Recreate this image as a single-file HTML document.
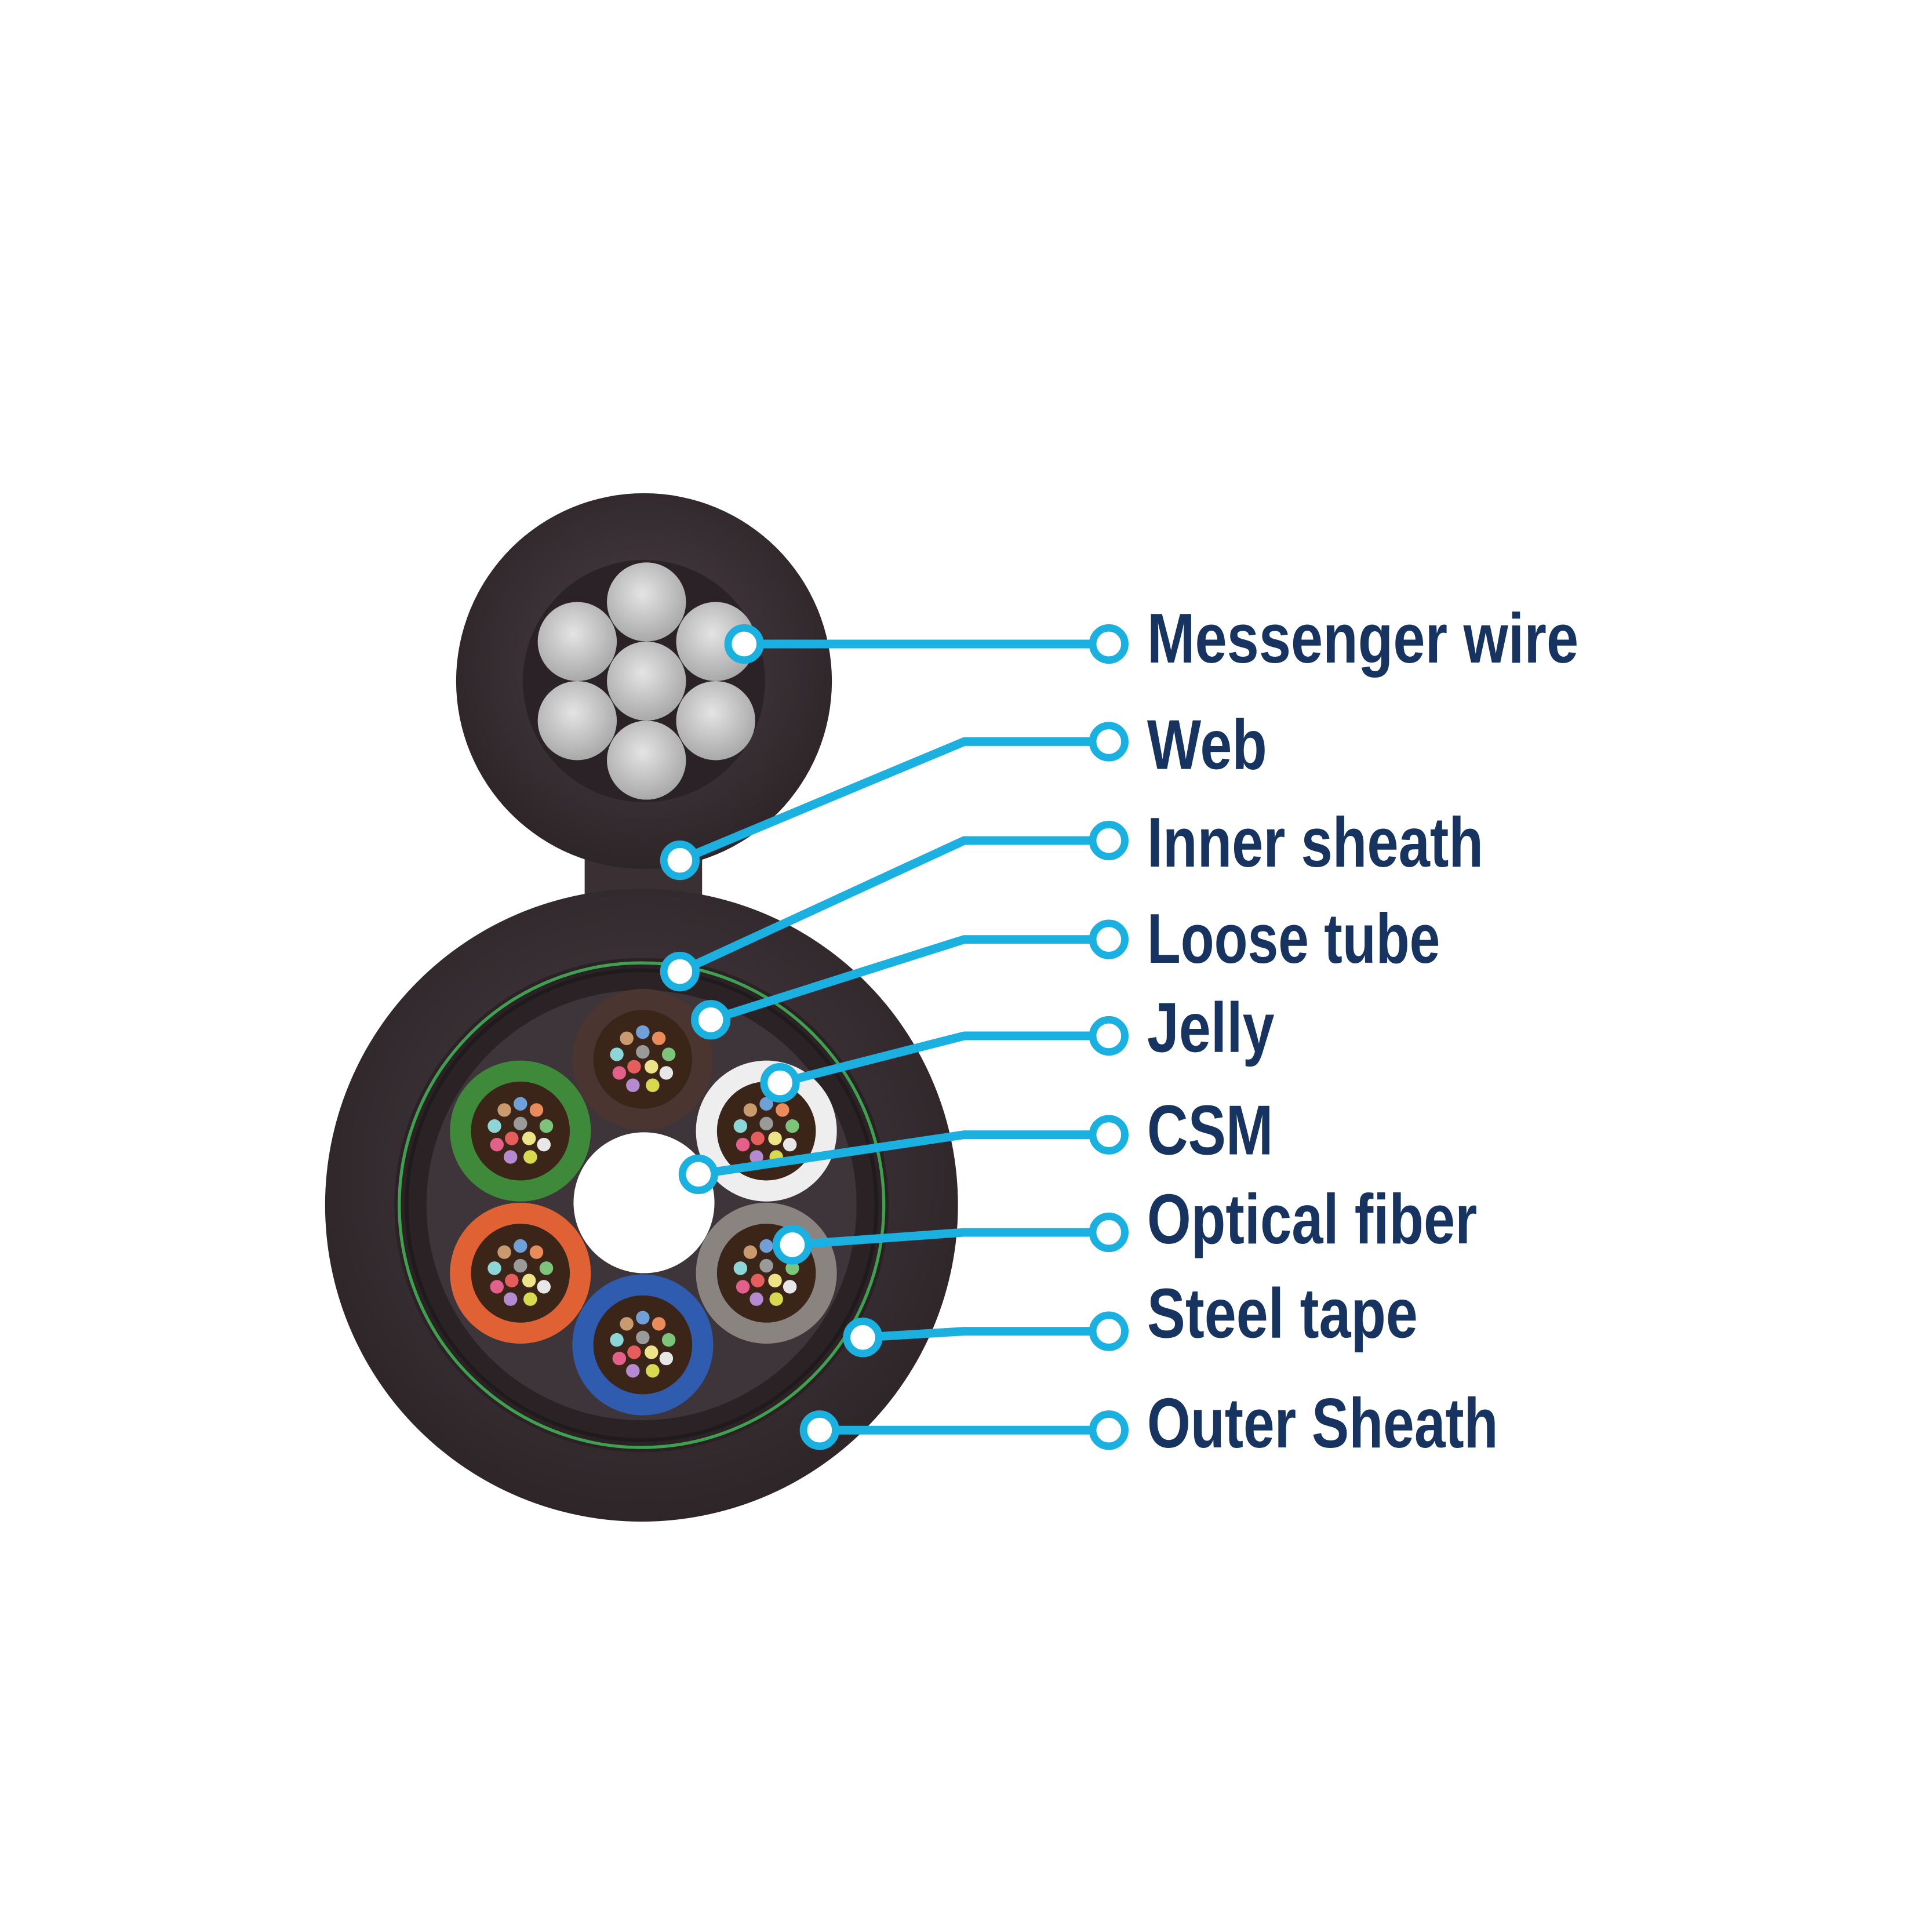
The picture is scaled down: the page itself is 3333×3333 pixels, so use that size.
<!DOCTYPE html>
<html><head><meta charset="utf-8"><style>
html,body{margin:0;padding:0;background:#fff}
svg{display:block}
text{font-family:"Liberation Sans Narrow","Liberation Sans",sans-serif;font-weight:bold;fill:#17335f;font-size:57px}
</style></head><body>
<svg width="3333" height="3333" viewBox="0 0 1563 1563" xmlns="http://www.w3.org/2000/svg">
<defs>
<radialGradient id="sh" cx="50%" cy="45%" r="55%"><stop offset="0" stop-color="#4a3f45"/><stop offset="1" stop-color="#2e2529"/></radialGradient>
<radialGradient id="wire" cx="45%" cy="40%" r="60%"><stop offset="0" stop-color="#e4e4e4"/><stop offset="1" stop-color="#a9a9a9"/></radialGradient>
<g id="fib">
<circle cx="0" cy="0" r="40" fill="#3a2518"/>
<circle cx="0" cy="-22" r="5.5" fill="#6fa0d8"/><circle cx="13" cy="-17" r="5.5" fill="#e98b5a"/>
<circle cx="21" cy="-4" r="5.5" fill="#7cc47a"/><circle cx="19" cy="11" r="5.5" fill="#e7e7e7"/>
<circle cx="8" cy="21" r="5.5" fill="#d9d950"/><circle cx="-8" cy="21" r="5.5" fill="#b58ad0"/>
<circle cx="-19" cy="11" r="5.5" fill="#e2608a"/><circle cx="-21" cy="-4" r="5.5" fill="#8dd6d8"/>
<circle cx="-13" cy="-17" r="5.5" fill="#c99a6e"/><circle cx="0" cy="-6" r="5.5" fill="#9a9a9a"/>
<circle cx="-7" cy="6" r="5.5" fill="#e55d5d"/><circle cx="7" cy="6" r="5.5" fill="#efe38a"/>
</g>
</defs>
<!-- web -->
<rect x="473" y="640" width="95" height="100" fill="#3a3034"/>
<!-- messenger -->
<circle cx="521" cy="551" r="152" fill="url(#sh)"/>
<circle cx="521" cy="551" r="98" fill="#2a2226"/>
<circle cx="523" cy="487" r="32" fill="url(#wire)"/>
<circle cx="467" cy="519" r="32" fill="url(#wire)"/>
<circle cx="579" cy="519" r="32" fill="url(#wire)"/>
<circle cx="523" cy="551" r="32" fill="url(#wire)"/>
<circle cx="467" cy="583" r="32" fill="url(#wire)"/>
<circle cx="579" cy="583" r="32" fill="url(#wire)"/>
<circle cx="523" cy="615" r="32" fill="url(#wire)"/>
<!-- main -->
<circle cx="519" cy="975" r="256" fill="url(#sh)"/>
<circle cx="519" cy="975" r="200" fill="#2b2226"/>
<circle cx="519" cy="975" r="196" fill="none" stroke="#3fa050" stroke-width="2.5"/>
<circle cx="519" cy="975" r="190" fill="none" stroke="#1f1a1c" stroke-width="3"/>
<circle cx="519" cy="975" r="174" fill="#3e353a"/>
<circle cx="521" cy="973" r="57" fill="#fff"/>
<circle cx="520" cy="857" r="57" fill="#4a3530"/><use href="#fib" x="520" y="857"/>
<circle cx="620" cy="915" r="57" fill="#eeeeee"/><use href="#fib" x="620" y="915"/>
<circle cx="620" cy="1030" r="57" fill="#8a8480"/><use href="#fib" x="620" y="1030"/>
<circle cx="520" cy="1088" r="57" fill="#2f5cae"/><use href="#fib" x="520" y="1088"/>
<circle cx="421" cy="1030" r="57" fill="#e06234"/><use href="#fib" x="421" y="1030"/>
<circle cx="421" cy="915" r="57" fill="#3e8a3a"/><use href="#fib" x="421" y="915"/>
<!-- leaders -->
<g fill="none" stroke="#1ab0e0" stroke-width="7">
<polyline points="602,521 897,521"/>
<polyline points="550,696 780,600 897,600"/>
<polyline points="550,786 780,680 897,680"/>
<polyline points="575,825 780,760 897,760"/>
<polyline points="631,876 780,838 897,838"/>
<polyline points="565,950 780,918 897,918"/>
<polyline points="641,1007 780,997 897,997"/>
<polyline points="698,1082 780,1077 897,1077"/>
<polyline points="663,1157 897,1157"/>
</g>
<g fill="#fff" stroke="#1ab0e0" stroke-width="6">
<circle cx="602" cy="521" r="13"/><circle cx="550" cy="696" r="13"/><circle cx="550" cy="786" r="13"/>
<circle cx="575" cy="825" r="13"/><circle cx="631" cy="876" r="13"/><circle cx="565" cy="950" r="13"/>
<circle cx="641" cy="1007" r="13"/><circle cx="698" cy="1082" r="13"/><circle cx="663" cy="1157" r="13"/>
<circle cx="897" cy="521" r="13"/><circle cx="897" cy="600" r="13"/><circle cx="897" cy="680" r="13"/>
<circle cx="897" cy="760" r="13"/><circle cx="897" cy="838" r="13"/><circle cx="897" cy="918" r="13"/>
<circle cx="897" cy="997" r="13"/><circle cx="897" cy="1077" r="13"/><circle cx="897" cy="1157" r="13"/>
</g>
<text x="928" y="536" textLength="349" lengthAdjust="spacingAndGlyphs">Messenger wire</text>
<text x="928" y="622" textLength="97" lengthAdjust="spacingAndGlyphs">Web</text>
<text x="928" y="701" textLength="272" lengthAdjust="spacingAndGlyphs">Inner sheath</text>
<text x="928" y="779" textLength="237" lengthAdjust="spacingAndGlyphs">Loose tube</text>
<text x="928" y="851" textLength="103" lengthAdjust="spacingAndGlyphs">Jelly</text>
<text x="928" y="934" textLength="102" lengthAdjust="spacingAndGlyphs">CSM</text>
<text x="928" y="1006" textLength="267" lengthAdjust="spacingAndGlyphs">Optical fiber</text>
<text x="928" y="1082" textLength="219" lengthAdjust="spacingAndGlyphs">Steel tape</text>
<text x="928" y="1171" textLength="284" lengthAdjust="spacingAndGlyphs">Outer Sheath</text>
</svg>
</body></html>
